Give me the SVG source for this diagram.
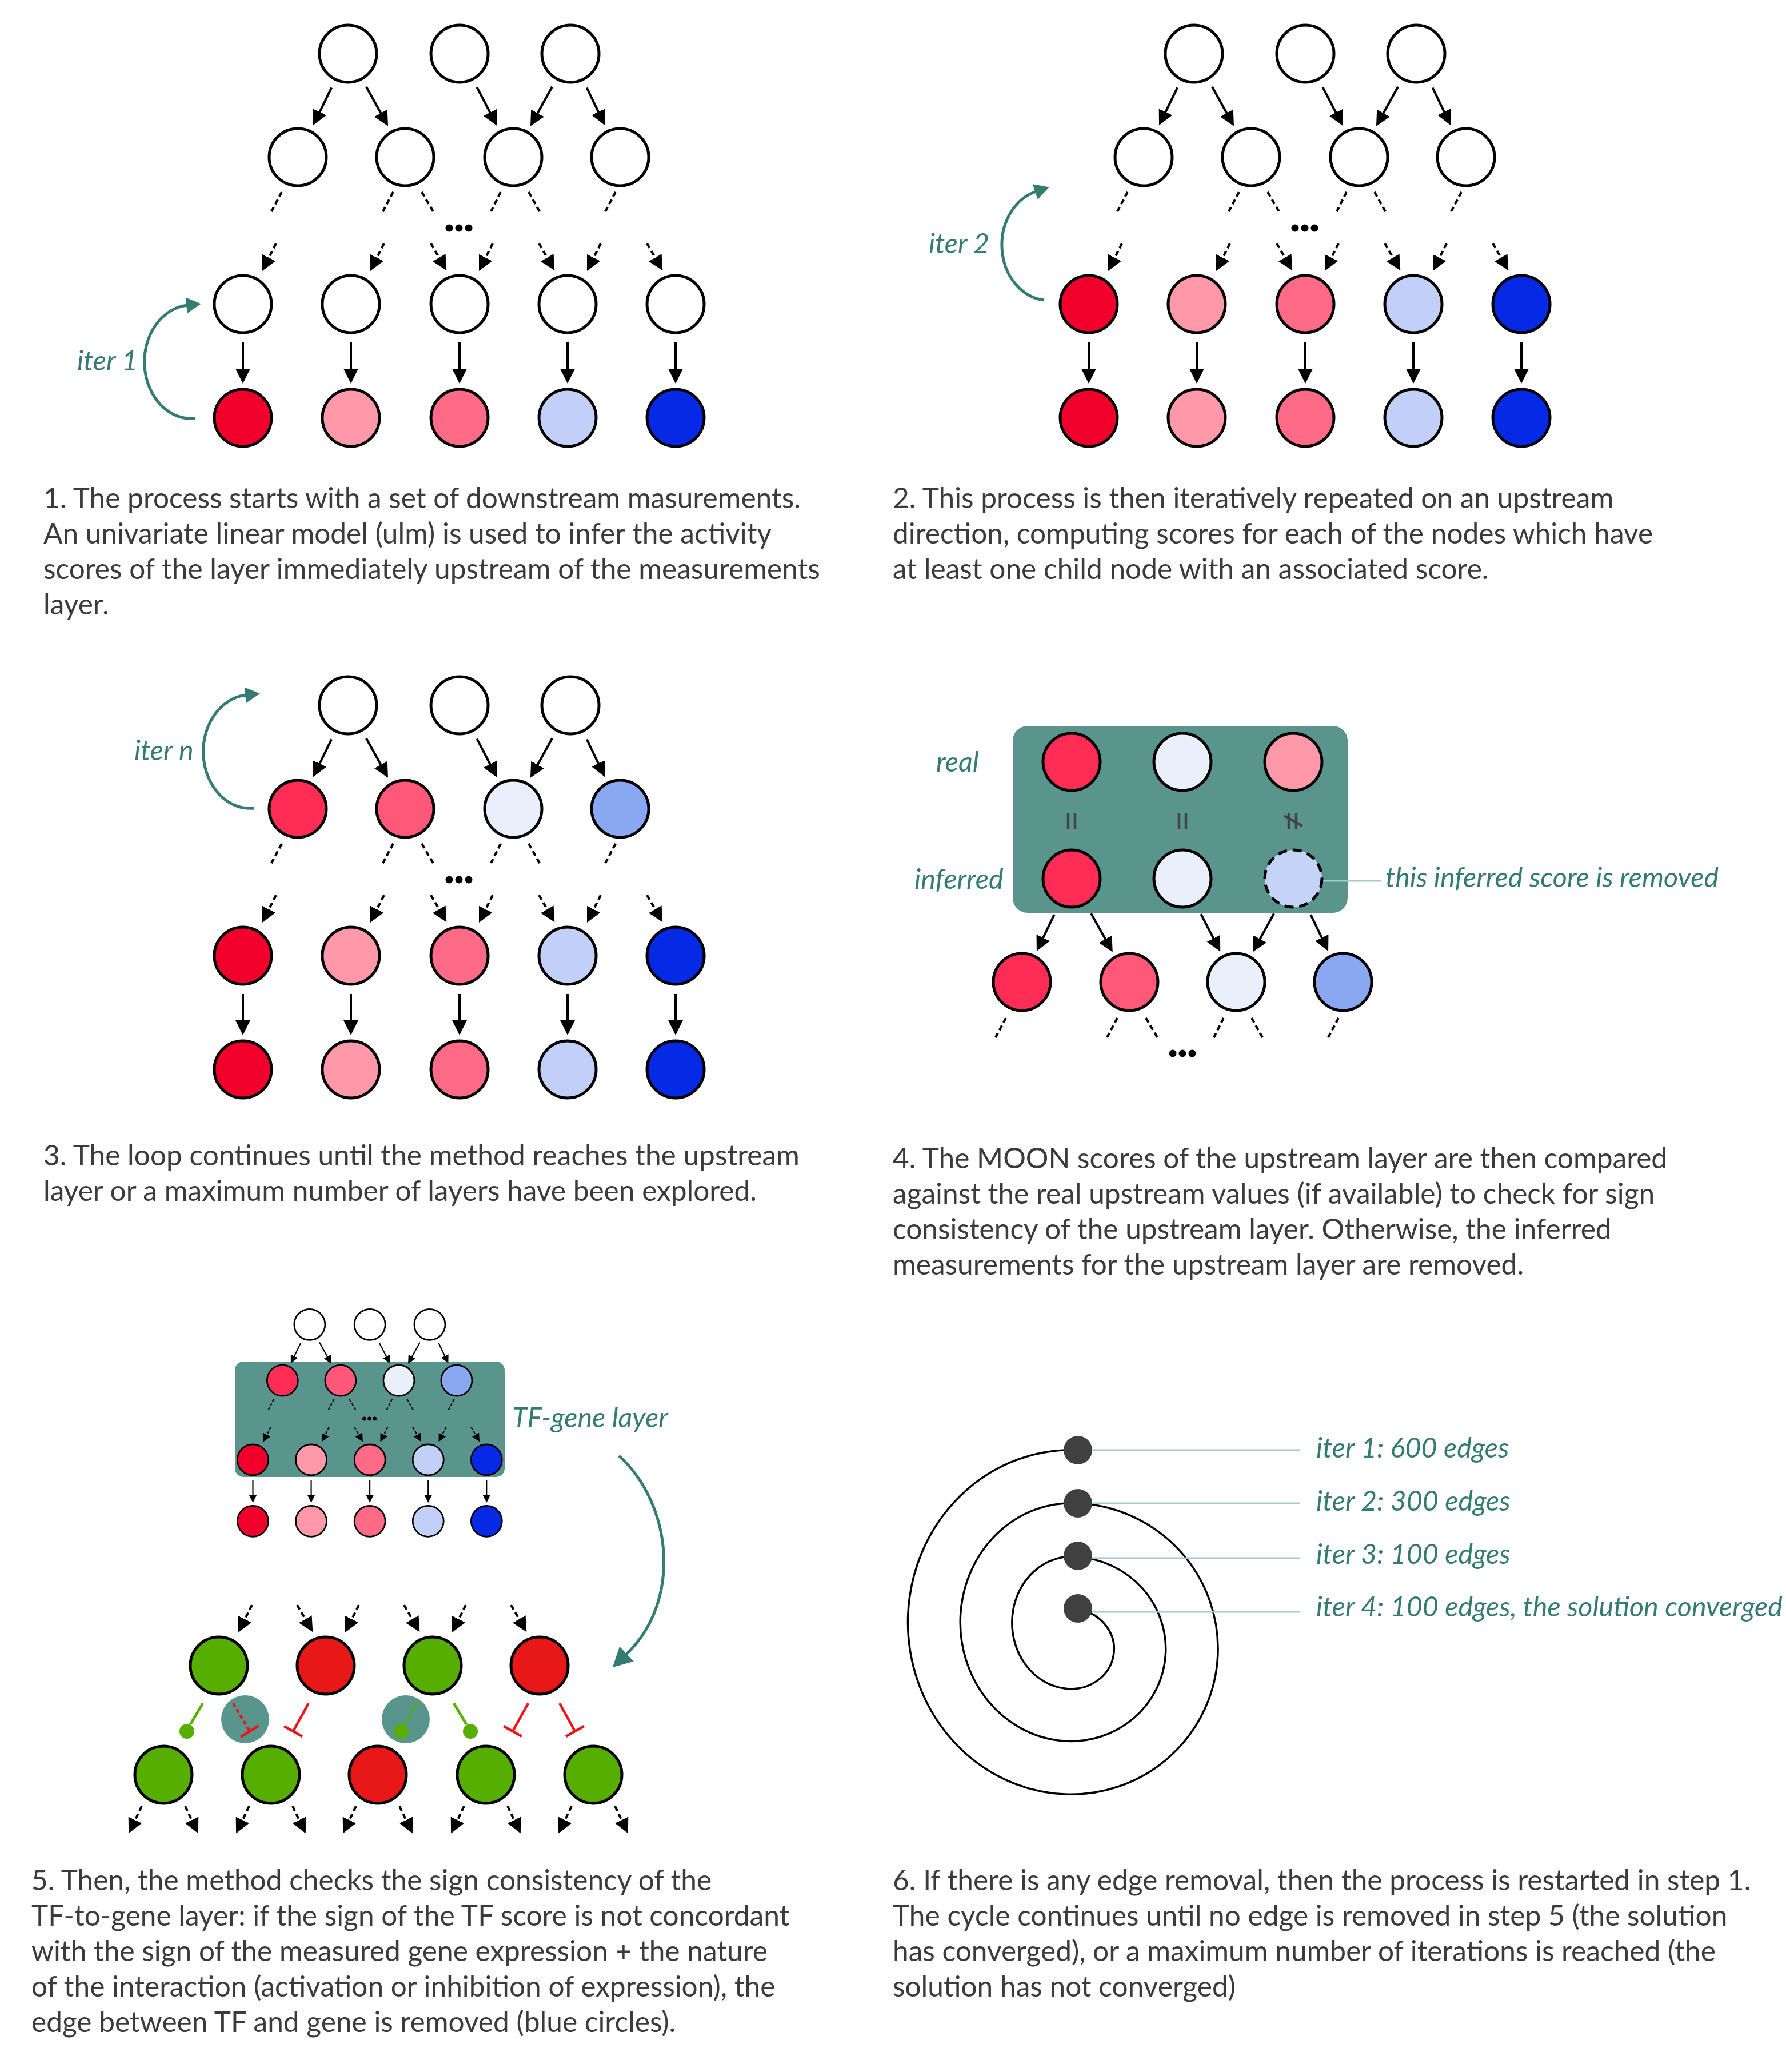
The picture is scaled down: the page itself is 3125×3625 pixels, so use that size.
<svg xmlns="http://www.w3.org/2000/svg" width="3125" height="3625" viewBox="0 0 3125 3625">
<defs>
<style>
.nd{stroke:#000;stroke-width:5}
.w{fill:#fff}
.c1{fill:#f0002a}.c2{fill:#ff99aa}.c3{fill:#ff6b86}.c4{fill:#c2d0f8}.c5{fill:#0629e6}
.d1{fill:#ff2d55}.d2{fill:#ff5878}.d3{fill:#e9effb}.d4{fill:#8aa7f1}
.gr{fill:#55ae00}.rd{fill:#e81818}
.ed{stroke:#000;stroke-width:4;fill:none}
.ds{stroke-dasharray:9 6}
.tx{font-family:Lato,'Liberation Sans',sans-serif;font-size:49.6px;fill:#3b3b3b}
.lb{font-family:Lato,'Liberation Sans',sans-serif;font-style:italic;font-size:48.5px;fill:#347b71}
.ta{stroke:#347b71;stroke-width:5;fill:none}
.an{stroke:#a6cac4;stroke-width:3}
.box{fill:#5a958d}
.ge{stroke:#55ae00;stroke-width:4.5;fill:none}
.re{stroke:#e81818;stroke-width:4.5;fill:none}
.eq{stroke:#444;stroke-width:4.5}
</style>
<marker id="ah" viewBox="0 0 26 26" refX="1" refY="13" markerWidth="26" markerHeight="26" markerUnits="userSpaceOnUse" orient="auto"><path d="M0,0L26,13L0,26z" fill="#000"/></marker>
<marker id="aht" viewBox="0 0 26 28" refX="2" refY="14" markerWidth="26" markerHeight="28" markerUnits="userSpaceOnUse" orient="auto"><path d="M0,0L26,14L0,28z" fill="#347b71"/></marker>
<marker id="ahT" viewBox="0 0 34 36" refX="2" refY="18" markerWidth="34" markerHeight="36" markerUnits="userSpaceOnUse" orient="auto"><path d="M0,0L34,18L0,36z" fill="#347b71"/></marker>
</defs>
<rect width="3125" height="3625" fill="#fff"/>

<!-- PANEL 1 -->
<g id="panel1">
<g id="p1-connectors">
<path class="ed" marker-end="url(#ah)" d="M580.2,153.3L559,196.8"/>
<path class="ed" marker-end="url(#ah)" d="M640.9,151.8L666.9,198.8"/>
<path class="ed" marker-end="url(#ah)" d="M834.4,152.6L857.9,197.8"/>
<path class="ed" marker-end="url(#ah)" d="M966.1,151.8L940.1,198.8"/>
<path class="ed" marker-end="url(#ah)" d="M1026.6,153.5L1047.3,196.6"/>
<path class="ed ds" d="M493,336L475,370"/>
<path class="ed ds" d="M688,336L670,370"/>
<path class="ed ds" d="M738,336L758,370"/>
<path class="ed ds" d="M876,336L859,370"/>
<path class="ed ds" d="M925,336L944,370"/>
<path class="ed ds" d="M1077,336L1059,370"/>
<path class="ed ds" marker-end="url(#ah)" d="M483,426L470.2,451.6"/>
<path class="ed ds" marker-end="url(#ah)" d="M672,426L659.2,451.6"/>
<path class="ed ds" marker-end="url(#ah)" d="M754,426L768.8,451.6"/>
<path class="ed ds" marker-end="url(#ah)" d="M862,426L849.2,451.6"/>
<path class="ed ds" marker-end="url(#ah)" d="M943,426L957.8,451.6"/>
<path class="ed ds" marker-end="url(#ah)" d="M1051,426L1038.2,451.6"/>
<path class="ed ds" marker-end="url(#ah)" d="M1132,426L1146.8,451.6"/>
<path class="ed" marker-end="url(#ah)" d="M425,599V646"/>
<path class="ed" marker-end="url(#ah)" d="M614,599V646"/>
<path class="ed" marker-end="url(#ah)" d="M804,599V646"/>
<path class="ed" marker-end="url(#ah)" d="M993,599V646"/>
<path class="ed" marker-end="url(#ah)" d="M1182,599V646"/>
<circle cx="786" cy="399" r="6.5"/><circle cx="803" cy="399" r="6.5"/><circle cx="820" cy="399" r="6.5"/>
<path class="ta" marker-end="url(#aht)" d="M342,732A82,99 0 0 1 328,534"/>
</g>
<g id="p1-t1"><circle class="nd w" cx="609" cy="94" r="50"/></g>
<g id="p1-t2"><circle class="nd w" cx="804" cy="94" r="50"/></g>
<g id="p1-t3"><circle class="nd w" cx="998" cy="94" r="50"/></g>
<g id="p1-m1"><circle class="nd w" cx="521" cy="275" r="50"/></g>
<g id="p1-m2"><circle class="nd w" cx="709" cy="275" r="50"/></g>
<g id="p1-m3"><circle class="nd w" cx="898" cy="275" r="50"/></g>
<g id="p1-m4"><circle class="nd w" cx="1085" cy="275" r="50"/></g>
<g id="p1-u1"><circle class="nd w" cx="425" cy="532" r="50"/></g>
<g id="p1-u2"><circle class="nd w" cx="614" cy="532" r="50"/></g>
<g id="p1-u3"><circle class="nd w" cx="804" cy="532" r="50"/></g>
<g id="p1-u4"><circle class="nd w" cx="993" cy="532" r="50"/></g>
<g id="p1-u5"><circle class="nd w" cx="1182" cy="532" r="50"/></g>
<g id="p1-b1"><circle class="nd c1" cx="425" cy="731" r="50"/></g>
<g id="p1-b2"><circle class="nd c2" cx="614" cy="731" r="50"/></g>
<g id="p1-b3"><circle class="nd c3" cx="804" cy="731" r="50"/></g>
<g id="p1-b4"><circle class="nd c4" cx="993" cy="731" r="50"/></g>
<g id="p1-b5"><circle class="nd c5" cx="1182" cy="731" r="50"/></g>
<text class="lb" x="135" y="648">iter 1</text>
<text class="tx" x="76" y="889">1. The process starts with a set of downstream masurements.</text>
<text class="tx" x="76" y="951">An univariate linear model (ulm) is used to infer the activity</text>
<text class="tx" x="76" y="1013">scores of the layer immediately upstream of the measurements</text>
<text class="tx" x="76" y="1075">layer.</text>
</g>

<!-- PANEL 2 -->
<g id="panel2">
<g transform="translate(1480,0)">
<g id="p2-connectors">
<path class="ed" marker-end="url(#ah)" d="M580.2,153.3L559,196.8"/>
<path class="ed" marker-end="url(#ah)" d="M640.9,151.8L666.9,198.8"/>
<path class="ed" marker-end="url(#ah)" d="M834.4,152.6L857.9,197.8"/>
<path class="ed" marker-end="url(#ah)" d="M966.1,151.8L940.1,198.8"/>
<path class="ed" marker-end="url(#ah)" d="M1026.6,153.5L1047.3,196.6"/>
<path class="ed ds" d="M493,336L475,370"/>
<path class="ed ds" d="M688,336L670,370"/>
<path class="ed ds" d="M738,336L758,370"/>
<path class="ed ds" d="M876,336L859,370"/>
<path class="ed ds" d="M925,336L944,370"/>
<path class="ed ds" d="M1077,336L1059,370"/>
<path class="ed ds" marker-end="url(#ah)" d="M483,426L470.2,451.6"/>
<path class="ed ds" marker-end="url(#ah)" d="M672,426L659.2,451.6"/>
<path class="ed ds" marker-end="url(#ah)" d="M754,426L768.8,451.6"/>
<path class="ed ds" marker-end="url(#ah)" d="M862,426L849.2,451.6"/>
<path class="ed ds" marker-end="url(#ah)" d="M943,426L957.8,451.6"/>
<path class="ed ds" marker-end="url(#ah)" d="M1051,426L1038.2,451.6"/>
<path class="ed ds" marker-end="url(#ah)" d="M1132,426L1146.8,451.6"/>
<path class="ed" marker-end="url(#ah)" d="M425,599V646"/>
<path class="ed" marker-end="url(#ah)" d="M614,599V646"/>
<path class="ed" marker-end="url(#ah)" d="M804,599V646"/>
<path class="ed" marker-end="url(#ah)" d="M993,599V646"/>
<path class="ed" marker-end="url(#ah)" d="M1182,599V646"/>
<circle cx="786" cy="399" r="6.5"/><circle cx="803" cy="399" r="6.5"/><circle cx="820" cy="399" r="6.5"/>
<path class="ta" marker-end="url(#aht)" d="M347,525A82,97 0 0 1 333,335"/>
</g>
<g id="p2-t1"><circle class="nd w" cx="609" cy="94" r="50"/></g>
<g id="p2-t2"><circle class="nd w" cx="804" cy="94" r="50"/></g>
<g id="p2-t3"><circle class="nd w" cx="998" cy="94" r="50"/></g>
<g id="p2-m1"><circle class="nd w" cx="521" cy="275" r="50"/></g>
<g id="p2-m2"><circle class="nd w" cx="709" cy="275" r="50"/></g>
<g id="p2-m3"><circle class="nd w" cx="898" cy="275" r="50"/></g>
<g id="p2-m4"><circle class="nd w" cx="1085" cy="275" r="50"/></g>
<g id="p2-u1"><circle class="nd c1" cx="425" cy="532" r="50"/></g>
<g id="p2-u2"><circle class="nd c2" cx="614" cy="532" r="50"/></g>
<g id="p2-u3"><circle class="nd c3" cx="804" cy="532" r="50"/></g>
<g id="p2-u4"><circle class="nd c4" cx="993" cy="532" r="50"/></g>
<g id="p2-u5"><circle class="nd c5" cx="1182" cy="532" r="50"/></g>
<g id="p2-b1"><circle class="nd c1" cx="425" cy="731" r="50"/></g>
<g id="p2-b2"><circle class="nd c2" cx="614" cy="731" r="50"/></g>
<g id="p2-b3"><circle class="nd c3" cx="804" cy="731" r="50"/></g>
<g id="p2-b4"><circle class="nd c4" cx="993" cy="731" r="50"/></g>
<g id="p2-b5"><circle class="nd c5" cx="1182" cy="731" r="50"/></g>
</g>
<text class="lb" x="1625" y="443">iter 2</text>
<text class="tx" x="1562" y="889">2. This process is then iteratively repeated on an upstream</text>
<text class="tx" x="1562" y="951">direction, computing scores for each of the nodes which have</text>
<text class="tx" x="1562" y="1013">at least one child node with an associated score.</text>
</g>

<!-- PANEL 3 -->
<g id="panel3">
<g transform="translate(0,1140)">
<g id="p3-connectors">
<path class="ed" marker-end="url(#ah)" d="M580.2,153.3L559,196.8"/>
<path class="ed" marker-end="url(#ah)" d="M640.9,151.8L666.9,198.8"/>
<path class="ed" marker-end="url(#ah)" d="M834.4,152.6L857.9,197.8"/>
<path class="ed" marker-end="url(#ah)" d="M966.1,151.8L940.1,198.8"/>
<path class="ed" marker-end="url(#ah)" d="M1026.6,153.5L1047.3,196.6"/>
<path class="ed ds" d="M493,336L475,370"/>
<path class="ed ds" d="M688,336L670,370"/>
<path class="ed ds" d="M738,336L758,370"/>
<path class="ed ds" d="M876,336L859,370"/>
<path class="ed ds" d="M925,336L944,370"/>
<path class="ed ds" d="M1077,336L1059,370"/>
<path class="ed ds" marker-end="url(#ah)" d="M483,426L470.2,451.6"/>
<path class="ed ds" marker-end="url(#ah)" d="M672,426L659.2,451.6"/>
<path class="ed ds" marker-end="url(#ah)" d="M754,426L768.8,451.6"/>
<path class="ed ds" marker-end="url(#ah)" d="M862,426L849.2,451.6"/>
<path class="ed ds" marker-end="url(#ah)" d="M943,426L957.8,451.6"/>
<path class="ed ds" marker-end="url(#ah)" d="M1051,426L1038.2,451.6"/>
<path class="ed ds" marker-end="url(#ah)" d="M1132,426L1146.8,451.6"/>
<path class="ed" marker-end="url(#ah)" d="M425,599V646"/>
<path class="ed" marker-end="url(#ah)" d="M614,599V646"/>
<path class="ed" marker-end="url(#ah)" d="M804,599V646"/>
<path class="ed" marker-end="url(#ah)" d="M993,599V646"/>
<path class="ed" marker-end="url(#ah)" d="M1182,599V646"/>
<circle cx="786" cy="399" r="6.5"/><circle cx="803" cy="399" r="6.5"/><circle cx="820" cy="399" r="6.5"/>
<path class="ta" marker-end="url(#aht)" d="M445,274A82,99 0 0 1 431,76"/>
</g>
<g id="p3-t1"><circle class="nd w" cx="609" cy="94" r="50"/></g>
<g id="p3-t2"><circle class="nd w" cx="804" cy="94" r="50"/></g>
<g id="p3-t3"><circle class="nd w" cx="998" cy="94" r="50"/></g>
<g id="p3-m1"><circle class="nd d1" cx="521" cy="275" r="50"/></g>
<g id="p3-m2"><circle class="nd d2" cx="709" cy="275" r="50"/></g>
<g id="p3-m3"><circle class="nd d3" cx="898" cy="275" r="50"/></g>
<g id="p3-m4"><circle class="nd d4" cx="1085" cy="275" r="50"/></g>
<g id="p3-u1"><circle class="nd c1" cx="425" cy="532" r="50"/></g>
<g id="p3-u2"><circle class="nd c2" cx="614" cy="532" r="50"/></g>
<g id="p3-u3"><circle class="nd c3" cx="804" cy="532" r="50"/></g>
<g id="p3-u4"><circle class="nd c4" cx="993" cy="532" r="50"/></g>
<g id="p3-u5"><circle class="nd c5" cx="1182" cy="532" r="50"/></g>
<g id="p3-b1"><circle class="nd c1" cx="425" cy="731" r="50"/></g>
<g id="p3-b2"><circle class="nd c2" cx="614" cy="731" r="50"/></g>
<g id="p3-b3"><circle class="nd c3" cx="804" cy="731" r="50"/></g>
<g id="p3-b4"><circle class="nd c4" cx="993" cy="731" r="50"/></g>
<g id="p3-b5"><circle class="nd c5" cx="1182" cy="731" r="50"/></g>
</g>
<text class="lb" x="235" y="1330">iter n</text>
<text class="tx" x="76" y="2039">3. The loop continues until the method reaches the upstream</text>
<text class="tx" x="76" y="2101">layer or a maximum number of layers have been explored.</text>
</g>

<!-- PANEL 4 -->
<g id="panel4">
<g id="p4-box"><rect class="box" x="1772" y="1270" width="586" height="327" rx="26"/></g>
<g id="p4-connectors">
<path class="ed" marker-end="url(#ah)" d="M1844.7,1600.1L1824.8,1641.4"/>
<path class="ed" marker-end="url(#ah)" d="M1909.1,1598.1L1934.6,1643.8"/>
<path class="ed" marker-end="url(#ah)" d="M2101.3,1599.1L2123.8,1642.6"/>
<path class="ed" marker-end="url(#ah)" d="M2229.1,1598.3L2204.1,1643.6"/>
<path class="ed" marker-end="url(#ah)" d="M2293.3,1600.1L2313.2,1641.4"/>
<path class="ed ds" d="M1760,1781L1742,1815"/>
<path class="ed ds" d="M1955,1781L1937,1815"/>
<path class="ed ds" d="M2005,1781L2025,1815"/>
<path class="ed ds" d="M2141,1781L2124,1815"/>
<path class="ed ds" d="M2190,1781L2209,1815"/>
<path class="ed ds" d="M2342,1781L2324,1815"/>
<circle cx="2052" cy="1843" r="6.5"/><circle cx="2069" cy="1843" r="6.5"/><circle cx="2086" cy="1843" r="6.5"/>
<path class="an" d="M2313,1541H2416"/>
</g>
<g id="p4-real1"><circle class="nd d1" cx="1875" cy="1333" r="50"/></g>
<g id="p4-real2"><circle class="nd d3" cx="2069" cy="1333" r="50"/></g>
<g id="p4-real3"><circle class="nd c2" cx="2263" cy="1333" r="50"/></g>
<g id="p4-eq">
<path class="eq" d="M1869,1422V1451M1881,1422V1451M2063,1422V1451M2075,1422V1451M2255,1422V1451M2268,1422V1451"/>
<path class="eq" d="M2247,1427L2279,1445"/>
</g>
<g id="p4-inf1"><circle class="nd d1" cx="1875" cy="1537" r="50"/></g>
<g id="p4-inf2"><circle class="nd d3" cx="2069" cy="1537" r="50"/></g>
<g id="p4-inf3"><circle class="nd" fill="#c5d3f9" stroke-dasharray="16 10" cx="2263" cy="1537" r="50"/></g>
<g id="p4-b1"><circle class="nd d1" cx="1788" cy="1718" r="50"/></g>
<g id="p4-b2"><circle class="nd d2" cx="1976" cy="1718" r="50"/></g>
<g id="p4-b3"><circle class="nd d3" cx="2163" cy="1718" r="50"/></g>
<g id="p4-b4"><circle class="nd d4" cx="2350" cy="1718" r="50"/></g>
<text class="lb" x="1638" y="1350">real</text>
<text class="lb" x="1600" y="1555">inferred</text>
<text class="lb" x="2424" y="1552">this inferred score is removed</text>
<text class="tx" x="1562" y="2044">4. The MOON scores of the upstream layer are then compared</text>
<text class="tx" x="1562" y="2106">against the real upstream values (if available) to check for sign</text>
<text class="tx" x="1562" y="2168">consistency of the upstream layer. Otherwise, the inferred</text>
<text class="tx" x="1562" y="2230">measurements for the upstream layer are removed.</text>
</g>

<!-- PANEL 5 -->
<g id="panel5">
<g id="p5-box"><rect class="box" x="411" y="2382" width="472" height="202" rx="15"/></g>
<g transform="translate(213,2266.6) scale(0.54)">
<g id="p5-top-connectors">
<path class="ed" marker-end="url(#ah)" d="M580.2,153.3L559,196.8"/>
<path class="ed" marker-end="url(#ah)" d="M640.9,151.8L666.9,198.8"/>
<path class="ed" marker-end="url(#ah)" d="M834.4,152.6L857.9,197.8"/>
<path class="ed" marker-end="url(#ah)" d="M966.1,151.8L940.1,198.8"/>
<path class="ed" marker-end="url(#ah)" d="M1026.6,153.5L1047.3,196.6"/>
<path class="ed ds" d="M493,336L475,370"/>
<path class="ed ds" d="M688,336L670,370"/>
<path class="ed ds" d="M738,336L758,370"/>
<path class="ed ds" d="M876,336L859,370"/>
<path class="ed ds" d="M925,336L944,370"/>
<path class="ed ds" d="M1077,336L1059,370"/>
<path class="ed ds" marker-end="url(#ah)" d="M483,426L470.2,451.6"/>
<path class="ed ds" marker-end="url(#ah)" d="M672,426L659.2,451.6"/>
<path class="ed ds" marker-end="url(#ah)" d="M754,426L768.8,451.6"/>
<path class="ed ds" marker-end="url(#ah)" d="M862,426L849.2,451.6"/>
<path class="ed ds" marker-end="url(#ah)" d="M943,426L957.8,451.6"/>
<path class="ed ds" marker-end="url(#ah)" d="M1051,426L1038.2,451.6"/>
<path class="ed ds" marker-end="url(#ah)" d="M1132,426L1146.8,451.6"/>
<path class="ed" marker-end="url(#ah)" d="M425,599V646"/>
<path class="ed" marker-end="url(#ah)" d="M614,599V646"/>
<path class="ed" marker-end="url(#ah)" d="M804,599V646"/>
<path class="ed" marker-end="url(#ah)" d="M993,599V646"/>
<path class="ed" marker-end="url(#ah)" d="M1182,599V646"/>
<circle cx="786" cy="399" r="6.5"/><circle cx="803" cy="399" r="6.5"/><circle cx="820" cy="399" r="6.5"/>
</g>
<g id="p5-t1"><circle class="nd w" cx="609" cy="94" r="50"/></g>
<g id="p5-t2"><circle class="nd w" cx="804" cy="94" r="50"/></g>
<g id="p5-t3"><circle class="nd w" cx="998" cy="94" r="50"/></g>
<g id="p5-m1"><circle class="nd d1" cx="521" cy="275" r="50"/></g>
<g id="p5-m2"><circle class="nd d2" cx="709" cy="275" r="50"/></g>
<g id="p5-m3"><circle class="nd d3" cx="898" cy="275" r="50"/></g>
<g id="p5-m4"><circle class="nd d4" cx="1085" cy="275" r="50"/></g>
<g id="p5-u1"><circle class="nd c1" cx="425" cy="532" r="50"/></g>
<g id="p5-u2"><circle class="nd c2" cx="614" cy="532" r="50"/></g>
<g id="p5-u3"><circle class="nd c3" cx="804" cy="532" r="50"/></g>
<g id="p5-u4"><circle class="nd c4" cx="993" cy="532" r="50"/></g>
<g id="p5-u5"><circle class="nd c5" cx="1182" cy="532" r="50"/></g>
<g id="p5-b1"><circle class="nd c1" cx="425" cy="731" r="50"/></g>
<g id="p5-b2"><circle class="nd c2" cx="614" cy="731" r="50"/></g>
<g id="p5-b3"><circle class="nd c3" cx="804" cy="731" r="50"/></g>
<g id="p5-b4"><circle class="nd c4" cx="993" cy="731" r="50"/></g>
<g id="p5-b5"><circle class="nd c5" cx="1182" cy="731" r="50"/></g>
</g>
<g id="p5-connectors">
<path class="ta" stroke-width="6" marker-end="url(#ahT)" d="M1083,2547C1175,2630 1195,2800 1095,2895"/>
<path class="ed ds" marker-end="url(#ah)" d="M441,2808L428.2,2833.6"/>
<path class="ed ds" marker-end="url(#ah)" d="M520,2808L534.8,2833.6"/>
<path class="ed ds" marker-end="url(#ah)" d="M628,2808L615.2,2833.6"/>
<path class="ed ds" marker-end="url(#ah)" d="M707,2808L721.8,2833.6"/>
<path class="ed ds" marker-end="url(#ah)" d="M815,2808L802.2,2833.6"/>
<path class="ed ds" marker-end="url(#ah)" d="M894,2808L908.8,2833.6"/>
<circle class="box" cx="429" cy="3008" r="42"/>
<circle class="box" cx="710" cy="3008" r="42"/>
<path class="ge" d="M355,2980L333,3017"/><circle class="gr" cx="327" cy="3029" r="13"/>
<path class="re" stroke-dasharray="7 5" d="M408,2980L437,3029"/><path class="re" d="M421,3039L453,3019"/>
<path class="re" d="M540,2980L513,3029"/><path class="re" d="M497,3020L529,3038"/>
<path class="ge" stroke-dasharray="7 5" d="M730,2980L708,3017"/><circle class="gr" cx="702" cy="3029" r="13"/>
<path class="ge" d="M794,2980L816,3017"/><circle class="gr" cx="823" cy="3029" r="13"/>
<path class="re" d="M924,2980L897,3029"/><path class="re" d="M881,3020L913,3038"/>
<path class="re" d="M979,2980L1006,3029"/><path class="re" d="M990,3038L1022,3020"/>
<path class="ed ds" marker-end="url(#ah)" d="M248,3160L236,3185"/>
<path class="ed ds" marker-end="url(#ah)" d="M324,3160L336,3185"/>
<path class="ed ds" marker-end="url(#ah)" d="M436,3160L424,3185"/>
<path class="ed ds" marker-end="url(#ah)" d="M512,3160L524,3185"/>
<path class="ed ds" marker-end="url(#ah)" d="M623,3160L611,3185"/>
<path class="ed ds" marker-end="url(#ah)" d="M699,3160L711,3185"/>
<path class="ed ds" marker-end="url(#ah)" d="M812,3160L800,3185"/>
<path class="ed ds" marker-end="url(#ah)" d="M888,3160L900,3185"/>
<path class="ed ds" marker-end="url(#ah)" d="M1000,3160L988,3185"/>
<path class="ed ds" marker-end="url(#ah)" d="M1076,3160L1088,3185"/>
</g>
<g id="p5-tf1"><circle class="nd gr" cx="383" cy="2914" r="50"/></g>
<g id="p5-tf2"><circle class="nd rd" cx="570" cy="2914" r="50"/></g>
<g id="p5-tf3"><circle class="nd gr" cx="757" cy="2914" r="50"/></g>
<g id="p5-tf4"><circle class="nd rd" cx="944" cy="2914" r="50"/></g>
<g id="p5-g1"><circle class="nd gr" cx="286" cy="3105" r="50"/></g>
<g id="p5-g2"><circle class="nd gr" cx="474" cy="3105" r="50"/></g>
<g id="p5-g3"><circle class="nd rd" cx="661" cy="3105" r="50"/></g>
<g id="p5-g4"><circle class="nd gr" cx="850" cy="3105" r="50"/></g>
<g id="p5-g5"><circle class="nd gr" cx="1038" cy="3105" r="50"/></g>
<text class="lb" x="896" y="2497">TF-gene layer</text>
<text class="tx" x="55" y="3307">5. Then, the method checks the sign consistency of the</text>
<text class="tx" x="55" y="3369">TF-to-gene layer: if the sign of the TF score is not concordant</text>
<text class="tx" x="55" y="3431">with the sign of the measured gene expression + the nature</text>
<text class="tx" x="55" y="3493">of the interaction (activation or inhibition of expression), the</text>
<text class="tx" x="55" y="3555">edge between TF and gene is removed (blue circles).</text>
</g>

<!-- PANEL 6 -->
<g id="panel6">
<g id="p6-connectors">
<path fill="none" stroke="#000" stroke-width="3.5" d="M1886,2816A74,69 0 0 1 1863,2954A103,115 0 0 1 1886,2724A165,161 0 0 1 1863,3046A194,208 0 0 1 1886,2630A256,254 0 0 1 1863,3139A286,301 0 0 1 1886,2537"/>
<path class="an" d="M1911,2537H2275M1911,2630H2275M1911,2726H2275M1911,2820H2275"/>
</g>
<g id="p6-it1"><circle fill="#404040" cx="1886" cy="2537" r="25"/></g>
<g id="p6-it2"><circle fill="#404040" cx="1886" cy="2630" r="25"/></g>
<g id="p6-it3"><circle fill="#404040" cx="1886" cy="2722" r="25"/></g>
<g id="p6-it4"><circle fill="#404040" cx="1886" cy="2814" r="25"/></g>
<text class="lb" x="2303" y="2550">iter 1: 600 edges</text>
<text class="lb" x="2303" y="2643">iter 2: 300 edges</text>
<text class="lb" x="2303" y="2736">iter 3: 100 edges</text>
<text class="lb" x="2303" y="2828">iter 4: 100 edges, the solution converged</text>
<text class="tx" x="1562" y="3307">6. If there is any edge removal, then the process is restarted in step 1.</text>
<text class="tx" x="1562" y="3369">The cycle continues until no edge is removed in step 5 (the solution</text>
<text class="tx" x="1562" y="3431">has converged), or a maximum number of iterations is reached (the</text>
<text class="tx" x="1562" y="3493">solution has not converged)</text>
</g>
</svg>
